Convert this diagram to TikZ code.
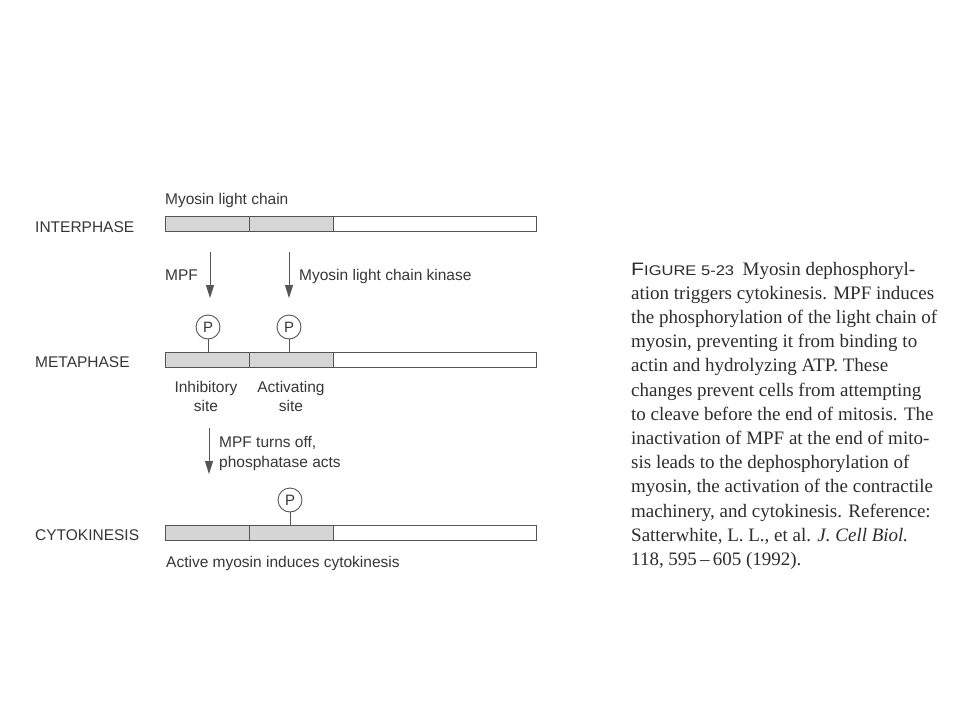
\documentclass[tikz,border=0pt]{standalone}
\usepackage{fontspec}
\setmainfont{Liberation Serif}
\setsansfont{Liberation Sans}
\usetikzlibrary{arrows.meta}
\definecolor{ink}{RGB}{55,55,55}
\definecolor{barline}{RGB}{85,85,85}
\definecolor{barfill}{RGB}{214,214,214}
\definecolor{captionink}{RGB}{45,45,45}
\tikzset{
  lab/.style={font=\sffamily\fontsize{15.5}{18}\selectfont, text=ink, inner sep=0pt, anchor=base west},
  labc/.style={font=\sffamily\fontsize{15.5}{18}\selectfont, text=ink, inner sep=0pt, anchor=base},
  captxt/.style={font=\rmfamily\fontsize{19}{22}\selectfont, text=captionink, inner sep=0pt, anchor=base west},
  seg/.style={draw=barline, line width=1pt, fill=barfill},
  segw/.style={draw=barline, line width=1pt, fill=white},
  pcirc/.style={circle, draw=barline, line width=0.9pt, minimum size=24pt, inner sep=0pt, fill=white,
    font=\sffamily\fontsize{15}{16}\selectfont, text=ink},
  stem/.style={draw=barline, line width=0.9pt},
  arr/.style={draw=barline, line width=1pt, -{Triangle[length=13pt,width=8pt]}},
}
\begin{document}
\begin{tikzpicture}[x=1pt,y=-1pt]
\useasboundingbox (0,0) rectangle (960,720);
\fill[white] (0,0) rectangle (960,720);

% ---- INTERPHASE ----
\node[lab] (mlc) at (165,204) {Myosin light chain};
\node[lab] (inter) at (35,232) {INTERPHASE};
\draw[seg] (165,216) rectangle (249,231);
\draw[seg] (249,216) rectangle (333,231);
\draw[segw] (333,216) rectangle (536,231);

% arrows
\coordinate (a1s) at (210,252); \coordinate (a1e) at (210,298);
\coordinate (a2s) at (289,252); \coordinate (a2e) at (289,298);
\draw[arr] (a1s) -- (a1e);
\draw[arr] (a2s) -- (a2e);
\node[lab] (mpf) at (165,280) {MPF};
\node[lab] (mlck) at (299,280) {Myosin light chain kinase};

% ---- METAPHASE ----
\node[lab] (meta) at (35,367) {METAPHASE};
\draw[seg] (165,352) rectangle (249,367);
\draw[seg] (249,352) rectangle (333,367);
\draw[segw] (333,352) rectangle (536,367);
\node[pcirc] (p1) at (208,327) {P};
\node[pcirc] (p2) at (289,327) {P};
\coordinate (b1) at (208,352);
\coordinate (b2) at (289,352);
\draw[stem] (p1) -- (b1);
\draw[stem] (p2) -- (b2);
\node[labc] (inh1) at (206,392) {Inhibitory};
\node[labc] (inh2) at (206,411) {site};
\node[labc] (act1) at (291,392) {Activating};
\node[labc] (act2) at (291,411) {site};

\coordinate (a3s) at (209,428); \coordinate (a3e) at (209,474);
\draw[arr] (a3s) -- (a3e);
\node[lab] (off1) at (219,447) {MPF turns off,};
\node[lab] (off2) at (219,467) {phosphatase acts};

% ---- CYTOKINESIS ----
\node[lab] (cyto) at (35,540) {CYTOKINESIS};
\draw[seg] (165,525) rectangle (249,540);
\draw[seg] (249,525) rectangle (333,540);
\draw[segw] (333,525) rectangle (536,540);
\node[pcirc] (p3) at (290,500) {P};
\coordinate (b3) at (290,525);
\draw[stem] (p3) -- (b3);
\node[lab] (active) at (166,567) {Active myosin induces cytokinesis};

% ---- Caption ----
\node[captxt] (c1) at (631,275) {\scalebox{1.18}[1]{\sffamily\fontsize{18}{22}\selectfont F\fontsize{14}{22}\selectfont IGURE 5-23}\hspace{0.45em}Myosin dephosphoryl-};
\node[captxt] (c2) at (631,299.2) {ation triggers cytokinesis. MPF induces};
\node[captxt] (c3) at (631,323.4) {the phosphorylation of the light chain of};
\node[captxt] (c4) at (631,347.6) {myosin, preventing it from binding to};
\node[captxt] (c5) at (631,371.8) {actin and hydrolyzing ATP. These};
\node[captxt] (c6) at (631,396) {changes prevent cells from attempting};
\node[captxt] (c7) at (631,420.2) {to cleave before the end of mitosis. The};
\node[captxt] (c8) at (631,444.4) {inactivation of MPF at the end of mito-};
\node[captxt] (c9) at (631,468.6) {sis leads to the dephosphorylation of};
\node[captxt] (c10) at (631,492.8) {myosin, the activation of the contractile};
\node[captxt] (c11) at (631,517) {machinery, and cytokinesis. Reference:};
\node[captxt] (c12) at (631,541.2) {Satterwhite, L. L., et al. \textit{J. Cell Biol.}};
\node[captxt] (c13) at (631,565.4) {118, 595\,--\,605 (1992).};
\end{tikzpicture}
\end{document}
